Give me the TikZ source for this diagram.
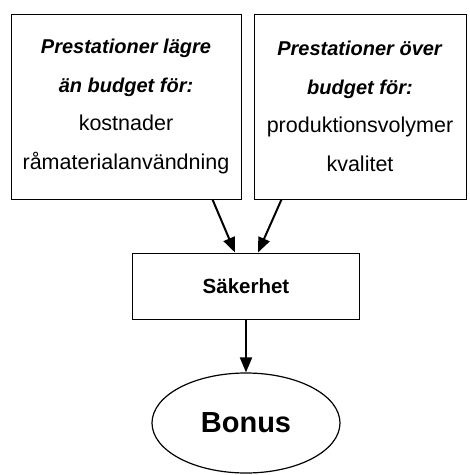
\documentclass[tikz,border=0pt]{standalone}
\usepackage{fontspec}
\setmainfont{Liberation Sans}
\usetikzlibrary{shapes.geometric,arrows.meta,calc}

\newcommand{\headline}[1]{\textbf{\textit{#1}}}
\newcommand{\plainline}[1]{{\fontsize{21.5}{38.5}\selectfont #1}}

\tikzset{
  box/.style={draw, line width=1pt, inner sep=0pt, align=center,
    font=\fontsize{20}{38.5}\selectfont},
  link/.style={line width=2pt, -{Triangle[length=15pt,width=12pt]}}
}

\begin{document}
\begin{tikzpicture}[x=1pt,y=-1pt]
    \useasboundingbox (0,0) rectangle (470,475);

    \node[box, minimum width=230pt, minimum height=185pt] (lower) at (126,106.5)
      {\headline{Prestationer lägre}\\ \headline{än budget för:}\\ \plainline{kostnader}\\ \plainline{råmaterialanvändning}};
    \node[box, minimum width=212pt, minimum height=185pt] (over) at (360,106.5)
      {\headline{Prestationer över}\\ \headline{budget för:}\\ \plainline{produktionsvolymer}\\ \plainline{kvalitet}};

    \node[box, minimum width=227pt, minimum height=66pt, font=\fontsize{20.5}{24}\selectfont\bfseries] (safety) at (246,286) {Säkerhet};

    \node[draw, ellipse, line width=1.2pt, minimum width=188pt, minimum height=100pt,
      font=\fontsize{29}{30}\selectfont\bfseries] (bonus) at (246,423) {Bonus};

    \draw[link] ($(lower.south east)+(-29,0)$) -- ($(safety.north)+(-11,0)$);
    \draw[link] ($(over.south west)+(28,0)$) -- ($(safety.north)+(12,0)$);
    \draw[link] (safety.south) -- (bonus.north);
\end{tikzpicture}
\end{document}
